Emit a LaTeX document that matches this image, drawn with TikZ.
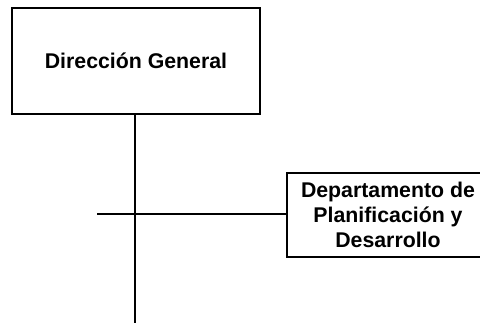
\documentclass[tikz,border=0pt]{standalone}
\usepackage{fontspec}
\setmainfont{Liberation Sans}
\begin{document}
\begin{tikzpicture}[x=1pt,y=-1pt,
  unitbox/.style={draw=black,line width=2pt,fill=white,font=\bfseries\fontsize{21.3}{25}\selectfont,align=center,inner sep=0pt},
  conn/.style={draw=black,line width=2pt}]
\useasboundingbox (0,0) rectangle (480,323);
\clip (0,0) rectangle (480,323);
\node[unitbox,minimum width=248pt,minimum height=106pt] (dg) at (136,61) {Direcci\'on General};
\node[unitbox,minimum width=202pt,minimum height=84pt] (dpd) at (388,215) {Departamento de\\Planificaci\'on y\\Desarrollo};
\coordinate (bottom) at (135,323);
\coordinate (left) at (97,214);
\draw[conn] (dg.south -| bottom) -- (bottom);
\draw[conn] (left) -- (left -| dpd.west);
\end{tikzpicture}
\end{document}
